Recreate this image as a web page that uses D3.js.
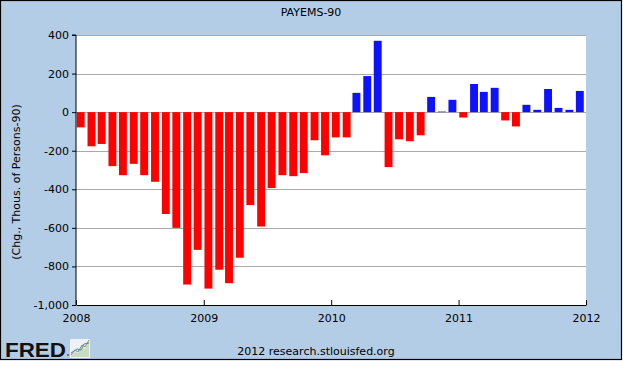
<!DOCTYPE html>
<html>
<head>
<meta charset="utf-8">
<script src="https://cdn.jsdelivr.net/npm/d3@7/dist/d3.min.js"></script>
<style>
  html, body { margin: 0; padding: 0; background: #ffffff; }
  svg { display: block; }
  text { font-family: "DejaVu Sans", Verdana, sans-serif; }
</style>
</head>
<body>
<div id="chart"></div>
<script>
// ---- Data (monthly change in nonfarm payrolls, thousands) ----
const title = "PAYEMS-90";
const yLabel = "(Chg., Thous. of Persons-90)";
const footer = "2012 research.stlouisfed.org";
const startMonth = "2008-01-01";
const endMonth = "2012-01-01";
const values = [
  -79, -177, -165, -280, -327, -268, -327, -361, -528, -600, -894, -714,
  -915, -817, -887, -755, -482, -593, -394, -327, -332, -316, -146, -224,
  -131, -131, 100, 187, 370, -285, -141, -151, -120, 79, 3, 64,
  -28, 146, 105, 126, -43, -74, 38, 12, 120, 22, 12, 110
];
const yTicks = [400, 200, 0, -200, -400, -600, -800, -1000];
const xTickYears = [2008, 2009, 2010, 2011, 2012];

// ---- Layout ----
const W = 623, H = 366;
const svg = d3.select("#chart").append("svg").attr("width", W).attr("height", H);

// frame
svg.append("rect").attr("x", 0.5).attr("y", 0.5).attr("width", 621).attr("height", 359)
  .attr("fill", "#B4CDE6").attr("stroke", "#000").attr("stroke-width", 1.2);

const parse = d3.timeParse("%Y-%m-%d");
const months = d3.timeMonth.range(parse(startMonth), parse(endMonth));
const data = months.map((d, i) => ({ date: d, value: values[i] }));

const x = d3.scaleTime().domain([parse(startMonth), parse(endMonth)]).range([76, 586]);
const y = d3.scaleLinear().domain([-1000, 400]).range([305, 35]);

// plot background
svg.append("rect").attr("x", x.range()[0]).attr("y", y(400))
  .attr("width", x.range()[1] - x.range()[0]).attr("height", y(-1000) - y(400))
  .attr("fill", "#fff");

// grid lines
svg.append("g").selectAll("line").data(yTicks.filter(t => t > -1000)).join("line")
  .attr("x1", x.range()[0]).attr("x2", x.range()[1])
  .attr("y1", d => Math.round(y(d)) + 0.5).attr("y2", d => Math.round(y(d)) + 0.5)
  .attr("stroke", "#AAAAAA").attr("stroke-width", 1);

// bars
svg.append("g").selectAll("rect").data(data).join("rect")
  .attr("x", d => x(d.date) + 0.7)
  .attr("width", 7.9)
  .attr("y", d => y(Math.max(0, d.value)))
  .attr("height", d => Math.abs(y(d.value) - y(0)))
  .attr("fill", d => d.value < 0 ? "#FF0000" : "#0F12FF");

// y axis
const fmt = d3.format(",d");
const yAxis = d3.axisLeft(y).tickValues(yTicks).tickSize(4).tickPadding(3)
  .tickFormat(d => fmt(d).replace("\u2212", "-"));
const gy = svg.append("g").attr("transform", `translate(${x.range()[0]},0)`).call(yAxis);
gy.select(".domain").attr("stroke", "#000").attr("d", `M-4,${y(400)}H0V${y(-1000)}`);
gy.selectAll(".tick line").attr("stroke", "#000");
gy.selectAll(".tick text").attr("font-size", 11).attr("fill", "#000")
  .style("font-family", "'DejaVu Sans', Verdana, sans-serif");

// x axis
const xAxis = d3.axisBottom(x)
  .tickValues(xTickYears.map(yr => new Date(yr, 0, 1)))
  .tickFormat(d3.timeFormat("%Y")).tickSizeInner(-5).tickSizeOuter(0).tickPadding(9);
const gx = svg.append("g").attr("transform", `translate(0,${y(-1000)})`).call(xAxis);
gx.select(".domain").attr("stroke", "#000");
gx.selectAll(".tick line").attr("stroke", "#000");
gx.selectAll(".tick text").attr("font-size", 11).attr("fill", "#000")
  .style("font-family", "'DejaVu Sans', Verdana, sans-serif");

// title
svg.append("text").attr("x", 311).attr("y", 16).attr("text-anchor", "middle")
  .attr("font-size", 11).attr("fill", "#000").text(title);

// y label
svg.append("text").attr("transform", "translate(20,182) rotate(-90)")
  .attr("text-anchor", "middle").attr("font-size", 11).attr("fill", "#000").text(yLabel);

// footer
svg.append("text").attr("x", 316).attr("y", 355).attr("text-anchor", "middle")
  .attr("font-size", 11).attr("fill", "#000").text(footer);

// FRED logo
const logo = svg.append("g");
logo.append("text").attr("x", 5).attr("y", 357)
  .attr("font-size", 21).attr("font-weight", "bold")
  .style("font-family", "'Liberation Sans', Arial, sans-serif")
  .attr("textLength", 61).attr("lengthAdjust", "spacingAndGlyphs")
  .attr("fill", "#111").text("FRED");
logo.append("circle").attr("cx", 68).attr("cy", 355).attr("r", 1).attr("fill", "#555");
logo.append("rect").attr("x", 70).attr("y", 339).attr("width", 20).attr("height", 19).attr("fill", "#EEF2F4");
logo.append("path").attr("d", "M71,356 L75,352 L78,353 L82,347 L85,349 L89,341 L89,357 L71,357 Z")
  .attr("fill", "#C9DCC2");
logo.append("path").attr("d", "M71,355 L75,350 L78,352 L82,345 L85,347 L89,340")
  .attr("fill", "none").attr("stroke", "#6A9A5B").attr("stroke-width", 1);
logo.append("path").attr("d", "M71,353 L74,351 L77,349 L81,350 L84,344 L89,343")
  .attr("fill", "none").attr("stroke", "#5B7FB8").attr("stroke-width", 1);
</script>
</body>
</html>
